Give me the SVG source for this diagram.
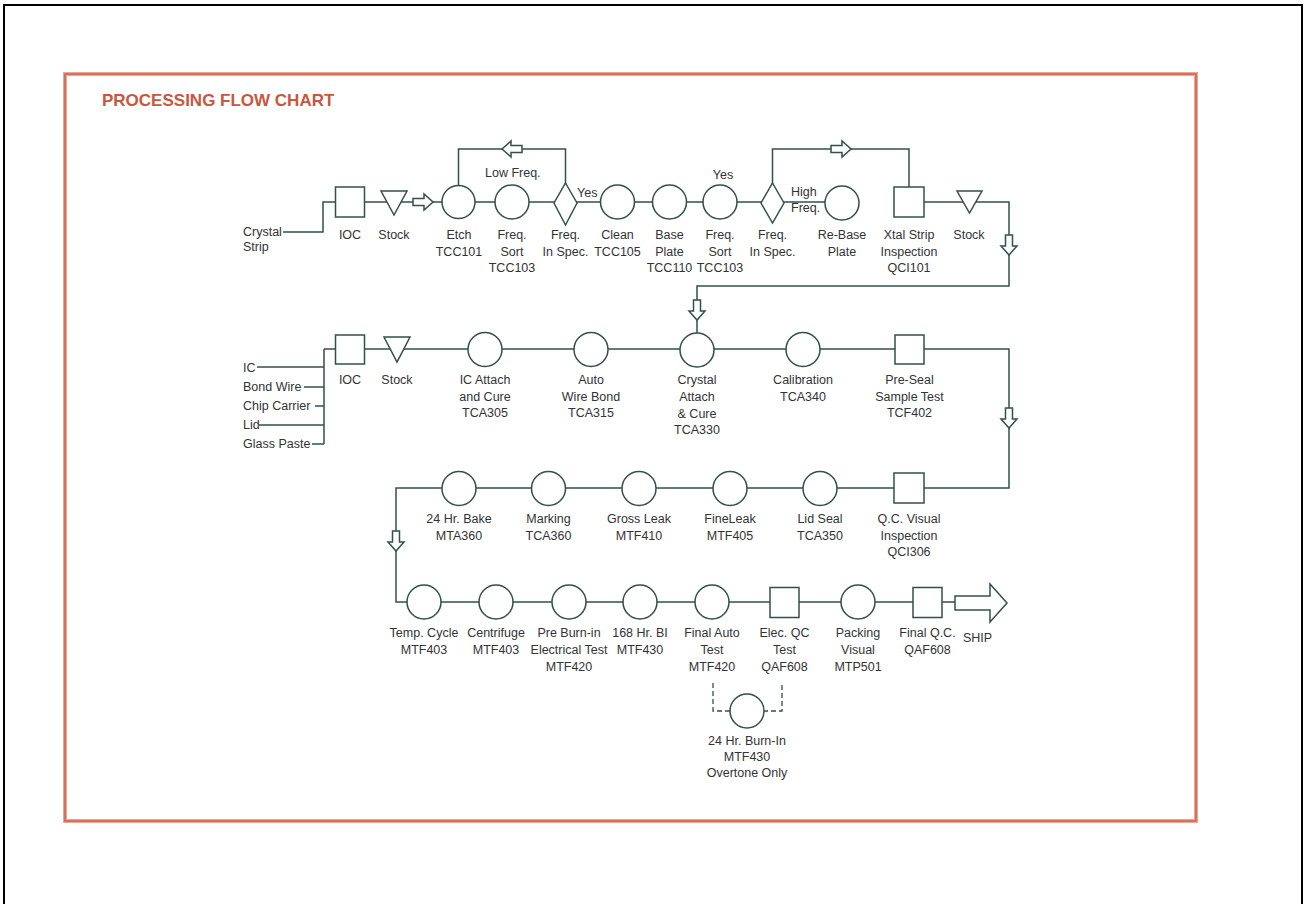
<svg xmlns="http://www.w3.org/2000/svg" width="1308" height="904" viewBox="0 0 1308 904">
<style>
.ln{fill:none;stroke:#33504a;stroke-width:1.5}
.dash{fill:none;stroke:#33504a;stroke-width:1.3;stroke-dasharray:5,3}
.sh{fill:#fff;stroke:#33504a;stroke-width:1.5}
text{font-family:"Liberation Sans",Arial,sans-serif;font-size:12.5px;fill:#333}
.c{text-anchor:middle}
.title{font-size:17px;font-weight:bold;fill:#c9573f}
</style>
<defs>
<path id="arr" d="M0,-3.5 H11 V-8 L20,0 L11,8 V3.5 H0 Z" class="sh"/>
</defs>
<rect x="0" y="0" width="1308" height="904" fill="#fff"/>
<rect x="4" y="5" width="1298" height="920" fill="none" stroke="#000" stroke-width="2"/>
<rect x="65" y="74" width="1131" height="747" fill="none" stroke="#e6a898" stroke-width="4"/>
<rect x="65" y="74" width="1131" height="747" fill="none" stroke="#d4634d" stroke-width="1.6"/>
<text class="title" x="102" y="106">PROCESSING FLOW CHART</text>

<g id="connectors">
<path class="ln" d="M283,232 H323 V202 H842"/>
<path class="ln" d="M458.5,202 V149 H565.5 V203"/>
<path class="ln" d="M772.5,203 V149 H909 V202"/>
<path class="ln" d="M909,202 H1009 V286 H697 V349"/>
<path class="ln" d="M324,349 V444 M257,367 H324 M304,387 H324 M315,406 H324 M259,425 H324 M312,444 H324"/>
<path class="ln" d="M324,349 H1009 V488 H396 V602 H960"/>
<path class="dash" d="M713,683 V711 H747 M747,711 H782 V683"/>
<use href="#arr" transform="translate(413,202)"/>
<use href="#arr" transform="translate(522,149) rotate(180)"/>
<use href="#arr" transform="translate(831,149)"/>
<use href="#arr" transform="translate(1009,235) rotate(90)"/>
<use href="#arr" transform="translate(697,300) rotate(90)"/>
<use href="#arr" transform="translate(1009,408) rotate(90)"/>
<use href="#arr" transform="translate(396,531) rotate(90)"/>
<text x="485" y="177">Low Freq.</text>
<text x="577" y="197">Yes</text>
<text class="c" x="723" y="179">Yes</text>
<text x="791" y="196">High</text>
<text x="791" y="212">Freq.</text>
</g>

<g id="in-crystal"><text x="243" y="236">Crystal</text><text x="243" y="251">Strip</text></g>
<g id="ioc1"><rect class="sh" x="335.5" y="187" width="29" height="30"/><text class="c" x="350" y="239">IOC</text></g>
<g id="stock1"><polygon class="sh" points="381,191 407,191 394,215"/><text class="c" x="394" y="239">Stock</text></g>
<g id="etch"><circle class="sh" cx="458.5" cy="202" r="16.5"/><text class="c" x="459" y="239">Etch</text><text class="c" x="459" y="255.5">TCC101</text></g>
<g id="fsort1"><circle class="sh" cx="512" cy="202" r="17"/><text class="c" x="512" y="239">Freq.</text><text class="c" x="512" y="255.5">Sort</text><text class="c" x="512" y="272">TCC103</text></g>
<g id="fspec1"><polygon class="sh" points="565.5,183 577,203 565.5,225 554,203"/><text class="c" x="565.5" y="239">Freq.</text><text class="c" x="565.5" y="255.5">In Spec.</text></g>
<g id="clean"><circle class="sh" cx="617.5" cy="202" r="17"/><text class="c" x="617.5" y="239">Clean</text><text class="c" x="617.5" y="255.5">TCC105</text></g>
<g id="baseplate"><circle class="sh" cx="669.5" cy="202" r="17"/><text class="c" x="669.5" y="239">Base</text><text class="c" x="669.5" y="255.5">Plate</text><text class="c" x="669.5" y="272">TCC110</text></g>
<g id="fsort2"><circle class="sh" cx="720" cy="202" r="17"/><text class="c" x="720" y="239">Freq.</text><text class="c" x="720" y="255.5">Sort</text><text class="c" x="720" y="272">TCC103</text></g>
<g id="fspec2"><polygon class="sh" points="772.5,183 784,203 772.5,223 761,203"/><text class="c" x="772.5" y="239">Freq.</text><text class="c" x="772.5" y="255.5">In Spec.</text></g>
<g id="rebase"><circle class="sh" cx="842" cy="203" r="17"/><text class="c" x="842" y="239">Re-Base</text><text class="c" x="842" y="255.5">Plate</text></g>
<g id="xtal"><rect class="sh" x="894" y="187" width="30" height="30"/><text class="c" x="909" y="239">Xtal Strip</text><text class="c" x="909" y="255.5">Inspection</text><text class="c" x="909" y="272">QCI101</text></g>
<g id="stock2"><polygon class="sh" points="957,191 982,191 969.5,213"/><text class="c" x="969" y="239">Stock</text></g>

<g id="in-parts">
<text x="243" y="372">IC</text>
<text x="243" y="391">Bond Wire</text>
<text x="243" y="410">Chip Carrier</text>
<text x="243" y="429">Lid</text>
<text x="243" y="448">Glass Paste</text>
</g>
<g id="ioc2"><rect class="sh" x="335.5" y="335" width="29" height="29"/><text class="c" x="350" y="384">IOC</text></g>
<g id="stock3"><polygon class="sh" points="384,337 410,337 397,362"/><text class="c" x="397" y="384">Stock</text></g>
<g id="icattach"><circle class="sh" cx="485" cy="349.5" r="17"/><text class="c" x="485" y="384">IC Attach</text><text class="c" x="485" y="401">and Cure</text><text class="c" x="485" y="417">TCA305</text></g>
<g id="wirebond"><circle class="sh" cx="591" cy="349.5" r="17"/><text class="c" x="591" y="384">Auto</text><text class="c" x="591" y="401">Wire Bond</text><text class="c" x="591" y="417">TCA315</text></g>
<g id="crystalattach"><circle class="sh" cx="697" cy="350" r="17"/><text class="c" x="697" y="384">Crystal</text><text class="c" x="697" y="401">Attach</text><text class="c" x="697" y="418">&amp; Cure</text><text class="c" x="697" y="434">TCA330</text></g>
<g id="calibration"><circle class="sh" cx="803" cy="349.5" r="17"/><text class="c" x="803" y="384">Calibration</text><text class="c" x="803" y="401">TCA340</text></g>
<g id="preseal"><rect class="sh" x="895" y="335" width="29" height="29"/><text class="c" x="909.5" y="384">Pre-Seal</text><text class="c" x="909.5" y="401">Sample Test</text><text class="c" x="909.5" y="417">TCF402</text></g>

<g id="bake"><circle class="sh" cx="459" cy="488.5" r="17"/><text class="c" x="459" y="523">24 Hr. Bake</text><text class="c" x="459" y="540">MTA360</text></g>
<g id="marking"><circle class="sh" cx="548.5" cy="488.5" r="17"/><text class="c" x="548.5" y="523">Marking</text><text class="c" x="548.5" y="540">TCA360</text></g>
<g id="grossleak"><circle class="sh" cx="639" cy="488.5" r="17"/><text class="c" x="639" y="523">Gross Leak</text><text class="c" x="639" y="540">MTF410</text></g>
<g id="fineleak"><circle class="sh" cx="730" cy="488.5" r="17"/><text class="c" x="730" y="523">FineLeak</text><text class="c" x="730" y="540">MTF405</text></g>
<g id="lidseal"><circle class="sh" cx="820" cy="488.5" r="17"/><text class="c" x="820" y="523">Lid Seal</text><text class="c" x="820" y="540">TCA350</text></g>
<g id="qcvisual"><rect class="sh" x="894" y="473" width="30" height="30"/><text class="c" x="909" y="523">Q.C. Visual</text><text class="c" x="909" y="540">Inspection</text><text class="c" x="909" y="556">QCI306</text></g>

<g id="tempcycle"><circle class="sh" cx="424" cy="602" r="17"/><text class="c" x="424" y="637">Temp. Cycle</text><text class="c" x="424" y="654">MTF403</text></g>
<g id="centrifuge"><circle class="sh" cx="496" cy="602" r="17"/><text class="c" x="496" y="637">Centrifuge</text><text class="c" x="496" y="654">MTF403</text></g>
<g id="preburnin"><circle class="sh" cx="569" cy="602" r="17"/><text class="c" x="569" y="637">Pre Burn-in</text><text class="c" x="569" y="654">Electrical Test</text><text class="c" x="569" y="671">MTF420</text></g>
<g id="bi168"><circle class="sh" cx="640" cy="602" r="17"/><text class="c" x="640" y="637">168 Hr. BI</text><text class="c" x="640" y="654">MTF430</text></g>
<g id="finalauto"><circle class="sh" cx="712" cy="602" r="17"/><text class="c" x="712" y="637">Final Auto</text><text class="c" x="712" y="654">Test</text><text class="c" x="712" y="671">MTF420</text></g>
<g id="elecqc"><rect class="sh" x="770" y="587.5" width="29" height="30"/><text class="c" x="784.5" y="637">Elec. QC</text><text class="c" x="784.5" y="654">Test</text><text class="c" x="784.5" y="671">QAF608</text></g>
<g id="packing"><circle class="sh" cx="858" cy="602" r="17"/><text class="c" x="858" y="637">Packing</text><text class="c" x="858" y="654">Visual</text><text class="c" x="858" y="671">MTP501</text></g>
<g id="finalqc"><rect class="sh" x="913" y="587.5" width="29" height="30"/><text class="c" x="927.5" y="637">Final Q.C.</text><text class="c" x="927.5" y="654">QAF608</text></g>
<g id="ship"><path class="sh" d="M955,596 H990 V584 L1007,603 L990,622 V610 H955 Z"/><text x="963" y="642">SHIP</text></g>
<g id="burnin24"><circle class="sh" cx="747" cy="711" r="17"/><text class="c" x="747" y="745">24 Hr. Burn-In</text><text class="c" x="747" y="761">MTF430</text><text class="c" x="747" y="777">Overtone Only</text></g>
</svg>
